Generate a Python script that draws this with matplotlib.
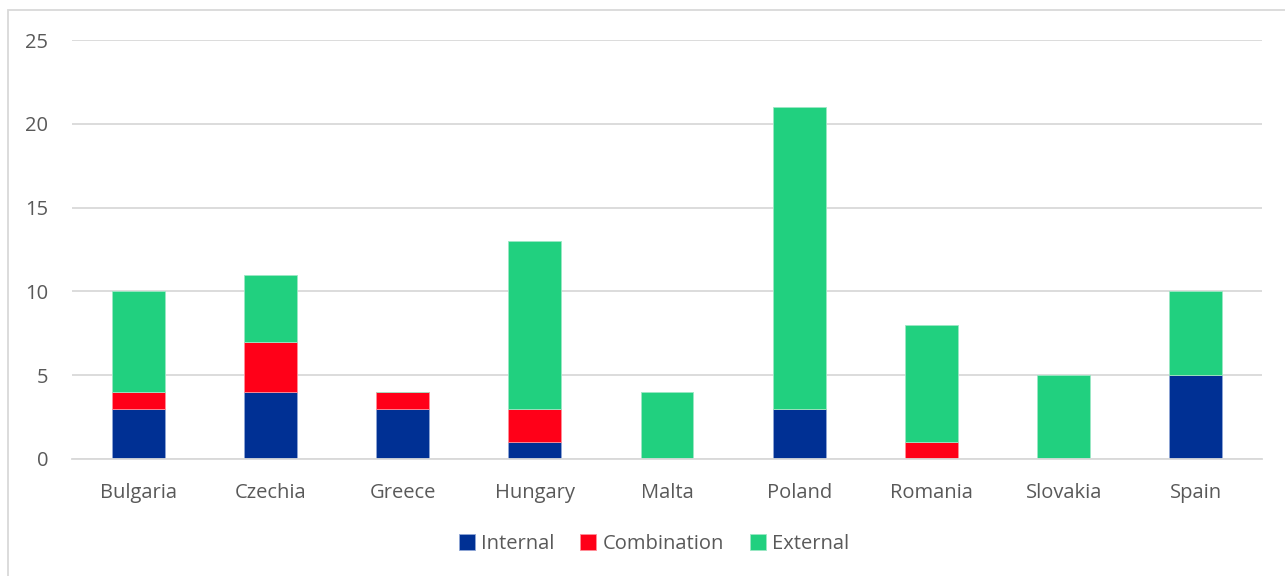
import matplotlib
matplotlib.use("Agg")
import matplotlib.pyplot as plt
import numpy as np
from matplotlib.patches import Rectangle

countries = ["Bulgaria", "Czechia", "Greece", "Hungary", "Malta",
             "Poland", "Romania", "Slovakia", "Spain"]
internal = [3, 4, 3, 1, 0, 3, 0, 0, 5]
combination = [1, 3, 1, 2, 0, 0, 1, 0, 0]
external = [6, 4, 0, 10, 4, 18, 7, 5, 5]

c_int = "#003094"
c_comb = "#FF0018"
c_ext = "#21D07F"
txt = "#595959"

plt.rcParams["font.family"] = ["Open Sans", "DejaVu Sans"]

fig = plt.figure(figsize=(12.85, 5.76), dpi=100)
# chart frame
fig.patches.append(Rectangle((8 / 1285, -0.1), 1.2, 0.1 + 1 - 10 / 576,
                             transform=fig.transFigure, fill=False,
                             edgecolor="#d9d9d9", linewidth=1.3))

ax = fig.add_axes([72 / 1285, 1 - 459 / 576, 1190 / 1285, 419 / 576])
x = np.arange(len(countries))
w = 0.4
ax.bar(x, internal, w, color=c_int, edgecolor="#8fa6d6", linewidth=0.6, label="Internal", zorder=3)
ax.bar(x, combination, w, bottom=internal, color=c_comb, edgecolor="#ff8f99", linewidth=0.6,
       label="Combination", zorder=3)
bot2 = [a + b for a, b in zip(internal, combination)]
ax.bar(x, external, w, bottom=bot2, color=c_ext, edgecolor="#9be8c4", linewidth=0.6,
       label="External", zorder=3)

ax.set_xlim(-0.5, len(countries) - 0.5)
ax.set_ylim(0, 25)
ax.set_yticks(range(0, 26, 5))
ax.set_xticks(x)
ax.set_xticklabels(countries)
ax.tick_params(axis="both", length=0, labelsize=14.5, colors=txt)
ax.tick_params(axis="y", pad=17)
ax.tick_params(axis="x", pad=17)
ax.grid(axis="y", color="#d9d9d9", linewidth=1.3, zorder=0)
for s in ["top", "right", "left"]:
    ax.spines[s].set_visible(False)
ax.spines["bottom"].set_color("#d9d9d9")
ax.spines["bottom"].set_linewidth(1.3)
ax.spines["bottom"].set_zorder(4)

leg = fig.legend(loc="center", bbox_to_anchor=(654 / 1285, 1 - 544 / 576), ncol=3,
                 frameon=False, fontsize=14.5, handlelength=0.8, handleheight=0.8,
                 handletextpad=0.3, columnspacing=1.3)
for t in leg.get_texts():
    t.set_color(txt)

fig.savefig("out.png", dpi=100)
